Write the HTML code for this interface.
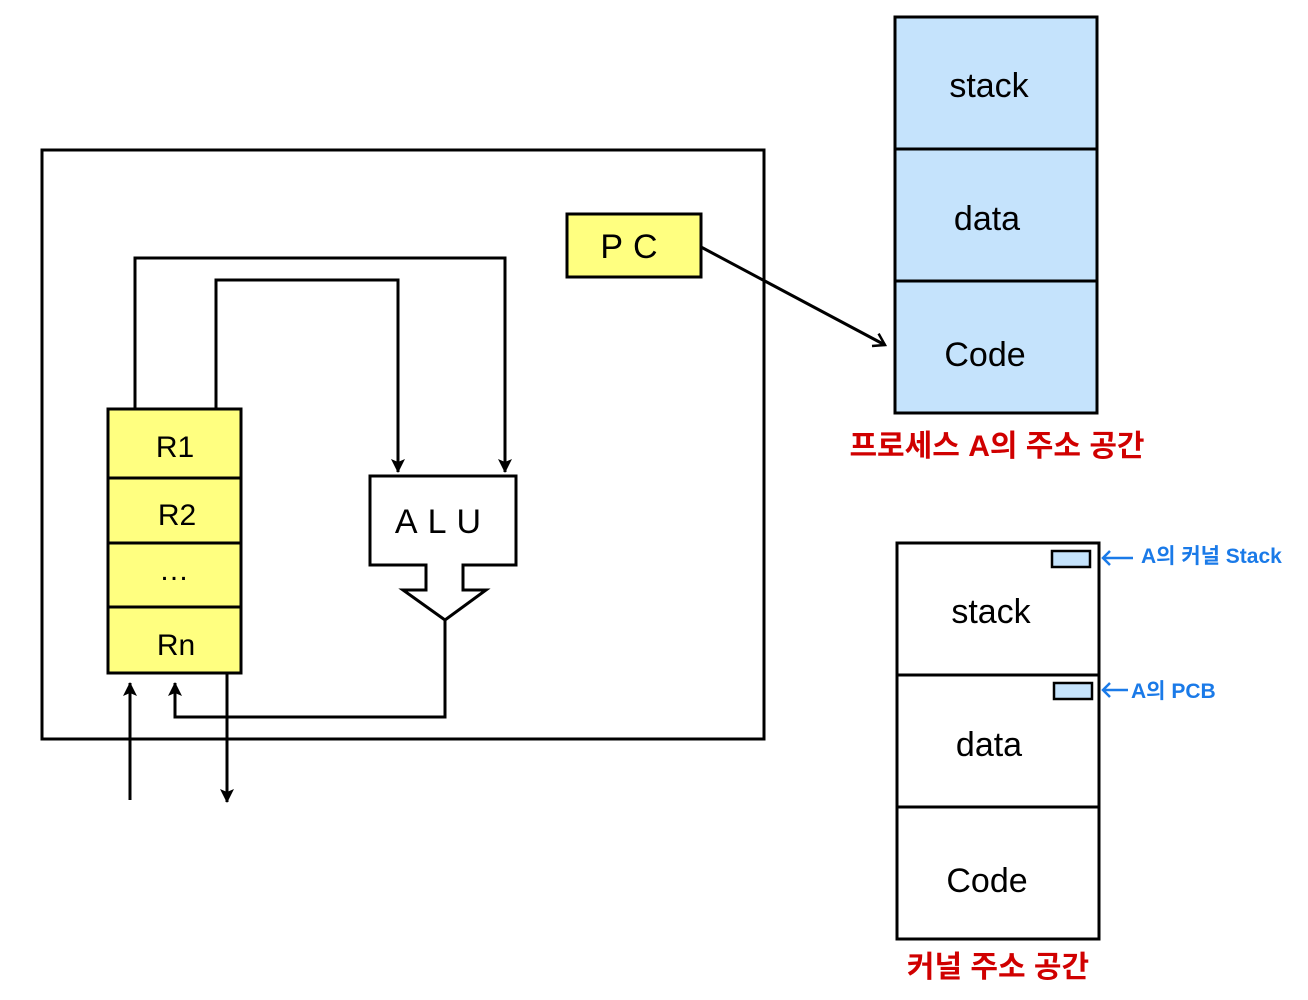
<!DOCTYPE html>
<html><head><meta charset="utf-8"><style>
html,body{margin:0;padding:0;background:#fff;}
svg{display:block;}
text{font-family:"Liberation Sans","Noto Sans CJK KR",sans-serif;}
</style></head><body>
<svg width="1308" height="1000" viewBox="0 0 1308 1000" xmlns="http://www.w3.org/2000/svg">
<defs>
<marker id="ah" markerWidth="16" markerHeight="16" refX="13" refY="7" orient="auto" markerUnits="userSpaceOnUse">
<path d="M0,0 L14,7 L0,14 L3,7 Z" fill="#000"/>
</marker>
<marker id="ao" markerWidth="16" markerHeight="16" refX="13" refY="8" orient="auto" markerUnits="userSpaceOnUse">
<path d="M2,1 L13,8 L2,15" fill="none" stroke="#000" stroke-width="2.5"/>
</marker>
</defs>
<g stroke="#000" stroke-width="3" fill="none">
<rect x="42" y="150" width="722" height="589"/>
<rect x="567" y="214" width="134" height="63" fill="#ffff80"/>
<line x1="701" y1="247" x2="885" y2="345" marker-end="url(#ao)"/>
<rect x="895" y="17" width="202" height="396" fill="#c5e3fc"/>
<line x1="895" y1="149" x2="1097" y2="149"/>
<line x1="895" y1="281" x2="1097" y2="281"/>
<rect x="897" y="543" width="202" height="396" fill="#fff"/>
<line x1="897" y1="675" x2="1099" y2="675"/>
<line x1="897" y1="807" x2="1099" y2="807"/>
<rect x="1052" y="551" width="38" height="16" fill="#c5e3fc" stroke-width="2.5"/>
<rect x="1054" y="683" width="38" height="16" fill="#c5e3fc" stroke-width="2.5"/>
<rect x="108" y="409" width="133" height="264" fill="#ffff80"/>
<line x1="108" y1="478" x2="241" y2="478"/>
<line x1="108" y1="543" x2="241" y2="543"/>
<line x1="108" y1="607" x2="241" y2="607"/>
<polyline points="135,409 135,258 505,258 505,472" marker-end="url(#ah)"/>
<polyline points="216,409 216,280 398,280 398,472" marker-end="url(#ah)"/>
<path d="M370,476 L516,476 L516,565 L463,565 L463,590 L486,590 L445,620 L403,590 L426,590 L426,565 L370,565 Z" fill="#fff"/>
<polyline points="445,620 445,717 175,717 175,683" marker-end="url(#ah)"/>
<line x1="130" y1="800" x2="130" y2="683" marker-end="url(#ah)"/>
<line x1="227" y1="673" x2="227" y2="802" marker-end="url(#ah)"/>
</g>
<g stroke="#1a7ae8" stroke-width="2.5" fill="none">
<polyline points="1110,551 1103,558 1110,565"/><line x1="1103" y1="558" x2="1133" y2="558"/>
<polyline points="1110,683 1103,690 1110,697"/><line x1="1103" y1="690" x2="1128" y2="690"/>
</g>
<g font-size="34" fill="#000" text-anchor="middle">
<text x="634" y="258" letter-spacing="10">PC</text>
<text x="989" y="97">stack</text>
<text x="987" y="230">data</text>
<text x="985" y="366">Code</text>
<text x="991" y="623">stack</text>
<text x="989" y="756">data</text>
<text x="987" y="892">Code</text>
<text x="443" y="533" letter-spacing="10">ALU</text>
</g>
<g font-size="30" fill="#000" text-anchor="middle">
<text x="175" y="457">R1</text>
<text x="177" y="525">R2</text>
<text x="174" y="580">…</text>
<text x="176" y="655">Rn</text>
</g>
<g font-size="30" font-weight="bold" fill="#d00000" text-anchor="middle">
<text x="997" y="456">프로세스 A의 주소 공간</text>
<text x="998" y="977">커널 주소 공간</text>
</g>
<g font-size="21" font-weight="bold" fill="#1a7ae8">
<text x="1141" y="563">A의 커널 Stack</text>
<text x="1131" y="698">A의 PCB</text>
</g>
</svg>
</body></html>
